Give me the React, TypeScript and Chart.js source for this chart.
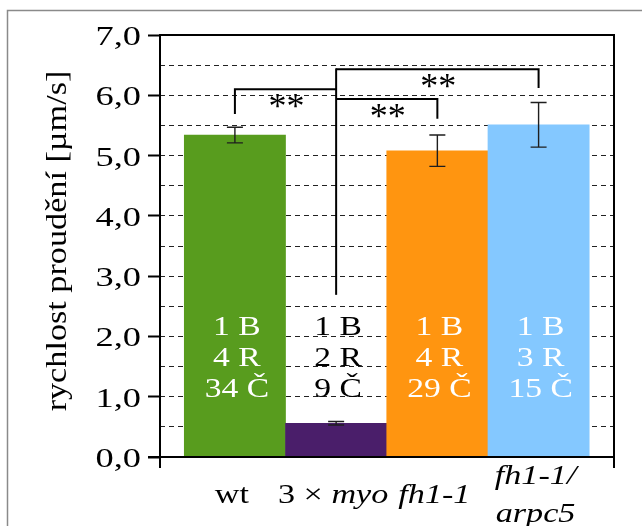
import React, { useEffect, useRef } from 'react';
import { Chart, registerables } from 'chart.js';

Chart.register(...registerables);

// ---- data ----
const CATEGORIES = ['wt', '3×myo', 'fh1-1', 'fh1-1/arpc5'];
const MEANS = [5.34, 0.56, 5.08, 5.51];
const ERRORS = [0.13, 0.03, 0.26, 0.37];
const COUNT_B = [1, 1, 1, 1];
const COUNT_R = [4, 2, 4, 3];
const COUNT_C = [34, 9, 29, 15];
const Y_TICK_VALUES = [0, 1, 2, 3, 4, 5, 6, 7];
const SIG_PAIRS = [[0, 1], [1, 3], [1, 2]];
const SIG_LABELS = ['**', '**', '**'];
const Y_TITLE = 'rychlost proudění [µm/s]';

// ---- styles ----
const COLORS = ['#589C1E', '#4A1E6A', '#FF9510', '#84C8FF'];
const TEXT_COLORS = ['#ffffff', '#000000', '#ffffff', '#ffffff'];
const FONT = '"Liberation Serif", "Times New Roman", serif';
const HUB = 1;
const BRACKET_H = [6.10, 6.43, 5.94];
const BRACKET_LEG = [5.69, 6.12, 5.61];
const HUB_BOTTOM = 2.69;

type Seg = { t: string; italic?: boolean };

function drawSegs(ctx: CanvasRenderingContext2D, segs: Seg[], x: number, y: number, size: number, sx: number, align: 'left' | 'center' | 'right', color = '#000') {
  ctx.save();
  ctx.textBaseline = 'alphabetic';
  ctx.textAlign = 'left';
  ctx.fillStyle = color;
  const widths = segs.map((s) => {
    ctx.font = `${s.italic ? 'italic ' : ''}${size}px ${FONT}`;
    return ctx.measureText(s.t).width * sx;
  });
  const total = widths.reduce((a, b) => a + b, 0);
  let x0 = align === 'center' ? x - total / 2 : align === 'right' ? x - total : x;
  segs.forEach((s, i) => {
    ctx.font = `${s.italic ? 'italic ' : ''}${size}px ${FONT}`;
    ctx.save();
    ctx.translate(x0, y);
    ctx.scale(sx, 1);
    ctx.fillText(s.t, 0, 0);
    ctx.restore();
    x0 += widths[i];
  });
  ctx.restore();
}

function labelLines(cat: string): Seg[][] {
  if (cat === 'wt') return [[{ t: cat }]];
  if (cat.includes('×')) {
    const [a, b] = cat.split('×');
    return [[{ t: a + ' × ' }, { t: b, italic: true }]];
  }
  if (cat.includes('/')) {
    const idx = cat.indexOf('/');
    return [[{ t: cat.slice(0, idx + 1), italic: true }], [{ t: cat.slice(idx + 1), italic: true }]];
  }
  return [[{ t: cat, italic: true }]];
}

const fmt = (v: number) => v.toFixed(1).replace('.', ',');

const decorPlugin = {
  id: 'decor',
  afterDatasetsDraw(chart: any) {
    const ctx: CanvasRenderingContext2D = chart.ctx;
    const ys = chart.scales.y;
    const meta = chart.getDatasetMeta(0);
    const cx = (i: number) => meta.data[i].x;

    // error bars
    ctx.save();
    ctx.strokeStyle = '#1e1e1e';
    ctx.lineWidth = 1.4;
    MEANS.forEach((m, i) => {
      const x = cx(i);
      const t = ys.getPixelForValue(m + ERRORS[i]);
      const b = ys.getPixelForValue(m - ERRORS[i]);
      ctx.beginPath();
      ctx.moveTo(x, t); ctx.lineTo(x, b);
      ctx.moveTo(x - 8, t); ctx.lineTo(x + 8, t);
      ctx.moveTo(x - 8, b); ctx.lineTo(x + 8, b);
      ctx.stroke();
    });
    ctx.restore();

    // significance brackets
    ctx.save();
    ctx.strokeStyle = '#000';
    ctx.lineWidth = 2;
    ctx.lineCap = 'butt';
    const hx = cx(HUB);
    ctx.beginPath();
    ctx.moveTo(hx, ys.getPixelForValue(Math.max(...BRACKET_H)) - 1);
    ctx.lineTo(hx, ys.getPixelForValue(HUB_BOTTOM));
    ctx.stroke();
    SIG_PAIRS.forEach(([a, b], k) => {
      const other = a === HUB ? b : a;
      const hy = ys.getPixelForValue(BRACKET_H[k]);
      const ox = cx(other);
      ctx.beginPath();
      ctx.moveTo(hx, hy);
      ctx.lineTo(ox, hy);
      ctx.lineTo(ox, ys.getPixelForValue(BRACKET_LEG[k]));
      ctx.stroke();
      // stars
      ctx.save();
      ctx.font = `36px ${FONT}`;
      ctx.fillStyle = '#000';
      ctx.textAlign = 'center';
      ctx.textBaseline = 'alphabetic';
      const m = ctx.measureText(SIG_LABELS[k]);
      const centerY = hy + 12;
      const baseY = centerY + (m.actualBoundingBoxAscent - m.actualBoundingBoxDescent) / 2;
      ctx.fillText(SIG_LABELS[k], (hx + ox) / 2 + 1, baseY);
      ctx.restore();
    });
    ctx.restore();

    // counts inside bars
    const baselines = [335, 366, 397];
    MEANS.forEach((_, i) => {
      const lines = [`${COUNT_B[i]} B`, `${COUNT_R[i]} R`, `${COUNT_C[i]} Č`];
      lines.forEach((s, j) => {
        drawSegs(ctx, [{ t: s }], cx(i) + 2, baselines[j], 28, 1.2, 'center', TEXT_COLORS[i]);
      });
    });
  },
  afterDraw(chart: any) {
    const ctx: CanvasRenderingContext2D = chart.ctx;
    const ys = chart.scales.y;
    const meta = chart.getDatasetMeta(0);
    const { left, right, top, bottom } = chart.chartArea;

    // frame
    ctx.save();
    ctx.strokeStyle = '#000';
    ctx.lineWidth = 2;
    ctx.beginPath();
    ctx.moveTo(left, top); ctx.lineTo(right, top);
    ctx.moveTo(left - 12, bottom); ctx.lineTo(right + 1, bottom);
    ctx.moveTo(left, top - 1); ctx.lineTo(left, bottom + 11);
    ctx.moveTo(right, top - 1); ctx.lineTo(right, bottom + 11);
    ctx.stroke();
    ctx.restore();

    // y tick labels
    Y_TICK_VALUES.forEach((v) => {
      const y = ys.getPixelForValue(v);
      drawSegs(ctx, [{ t: fmt(v) }], left - 19, y + 10, 28, 1.3, 'right');
    });

    // y title
    ctx.save();
    ctx.translate(66, (top + bottom) / 2 - 5);
    ctx.rotate(-Math.PI / 2);
    ctx.scale(1.14, 1);
    ctx.font = `30px ${FONT}`;
    ctx.fillStyle = '#000';
    ctx.textAlign = 'center';
    ctx.textBaseline = 'alphabetic';
    ctx.fillText(Y_TITLE, 0, 0);
    ctx.restore();

    // x labels
    CATEGORIES.forEach((cat, i) => {
      const x = meta.data[i].x - 3;
      const lines = labelLines(cat);
      if (lines.length === 1) {
        drawSegs(ctx, lines[0], x, 503, 28, 1.22, 'center');
      } else {
        drawSegs(ctx, lines[0], x, 484, 28, 1.22, 'center');
        drawSegs(ctx, lines[1], x, 522, 28, 1.22, 'center');
      }
    });

    // outer frame
    ctx.save();
    ctx.strokeStyle = '#8a8a8a';
    ctx.lineWidth = 1.5;
    ctx.beginPath();
    ctx.moveTo(7.5, 526);
    ctx.lineTo(7.5, 10.5);
    ctx.lineTo(642, 10.5);
    ctx.stroke();
    ctx.restore();
  },
};

export default function App() {
  const ref = useRef<HTMLCanvasElement>(null);
  useEffect(() => {
    if (!ref.current) return;
    const chart = new Chart(ref.current, {
      type: 'bar',
      data: {
        datasets: [
          {
            label: Y_TITLE,
            data: MEANS.map((v, i) => ({ x: i, y: v })),
            backgroundColor: COLORS,
            borderWidth: 0,
            barPercentage: 1,
            categoryPercentage: 1,
          },
        ],
      },
      options: {
        animation: false,
        responsive: true,
        maintainAspectRatio: false,
        layout: { padding: { left: 0, top: 35, right: 28, bottom: 69 } },
        plugins: { legend: { display: false }, tooltip: { enabled: false } },
        scales: {
          x: {
            type: 'linear',
            display: false,
            offset: false,
            grid: { offset: false },
            min: -0.74,
            max: 3.745,
            afterBuildTicks: (s: any) => {
              s.ticks = [0, 1, 2, 3].map((v) => ({ value: v }));
            },
          },
          y: {
            type: 'linear',
            min: 0,
            max: 7,
            afterFit: (s: any) => {
              s.width = 160;
            },
            ticks: { display: false, stepSize: 0.5 },
            border: { display: false, dash: [5, 4] },
            grid: {
              drawTicks: true,
              tickLength: 12,
              tickWidth: 2,
              tickBorderDash: [],
              lineWidth: 1,
              color: (c: any) =>
                c.tick && (c.tick.value === 0 || c.tick.value === 7) ? 'rgba(0,0,0,0)' : '#222',
              tickColor: (c: any) =>
                c.tick && Number.isInteger(c.tick.value) ? '#000' : 'rgba(0,0,0,0)',
            } as any,
          },
        },
      },
      plugins: [decorPlugin],
    });
    return () => chart.destroy();
  }, []);
  return (
    <div style={{ position: 'absolute', left: 0, top: 0, width: 642, height: 526, background: '#fff' }}>
      <canvas ref={ref} />
    </div>
  );
}
